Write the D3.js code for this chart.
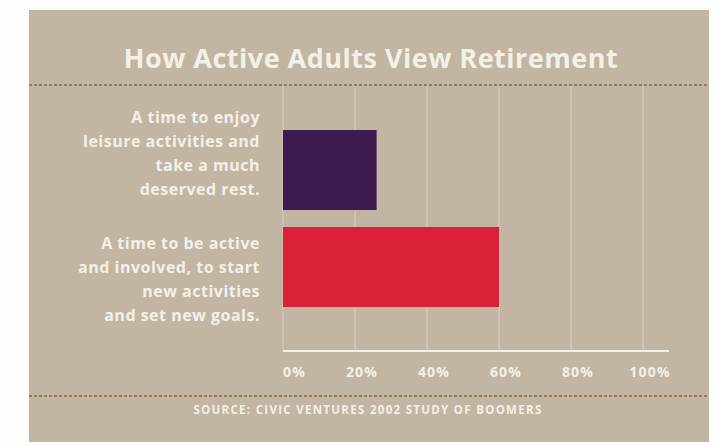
<!DOCTYPE html>
<html>
<head>
<meta charset="utf-8">
<script src="https://cdn.jsdelivr.net/npm/d3@7"></script>
<style>
  html, body { margin: 0; padding: 0; background: #fdfdfc; }
  svg { display: block; }
  text { font-family: "Open Sans", "Noto Sans", sans-serif; font-weight: 700; }
</style>
</head>
<body>
<svg id="chart" width="720" height="442"></svg>
<script>
// Survey answers (share of respondents, %)
const categories = [
  ["A time to enjoy", "leisure activities and", "take a much", "deserved rest."],
  ["A time to be active", "and involved, to start", "new activities", "and set new goals."]
];
const values = [26, 60];
const barColors = ["#3e1b4f", "#db2135"];
const tickValues = [0, 20, 40, 60, 80, 100];
const tickLabels = ["0%", "20%", "40%", "60%", "80%", "100%"];
const title = "How Active Adults View Retirement";
const source = "SOURCE: CIVIC VENTURES 2002 STUDY OF BOOMERS";

const svg = d3.select("#chart");
const cream = "#f5f0e6";

// tan card
svg.append("rect")
  .attr("x", 29).attr("y", 10)
  .attr("width", 680).attr("height", 432)
  .attr("fill", "#c2b5a3");

// title
svg.append("text")
  .attr("x", 371).attr("y", 68)
  .attr("text-anchor", "middle")
  .attr("font-size", 27)
  .attr("letter-spacing", 0.5)
  .attr("fill", cream)
  .text(title);

// dotted rules
function rule(y) {
  svg.append("line")
    .attr("x1", 29).attr("x2", 709)
    .attr("y1", y).attr("y2", y)
    .attr("stroke", "#8c6446")
    .attr("stroke-width", 1.3)
    .attr("stroke-dasharray", "3,2");
}
rule(85);
rule(396);

// scales
const x = d3.scaleLinear().domain([0, 100]).range([283, 643]);
const y = d3.scaleBand()
  .domain(d3.range(values.length))
  .range([130, 307])
  .paddingInner(0.175)
  .paddingOuter(0);

// vertical gridlines
svg.append("g")
  .selectAll("line")
  .data(tickValues)
  .join("line")
  .attr("x1", d => x(d)).attr("x2", d => x(d))
  .attr("y1", 86).attr("y2", 351)
  .attr("stroke", "#ffffff")
  .attr("stroke-opacity", 0.35)
  .attr("stroke-width", 1);

// bars
svg.append("g")
  .selectAll("rect")
  .data(values)
  .join("rect")
  .attr("x", x(0))
  .attr("y", (d, i) => y(i))
  .attr("width", d => x(d) - x(0))
  .attr("height", y.bandwidth())
  .attr("fill", (d, i) => barColors[i]);

// category labels, right aligned beside the bars
const lineGap = 24;
const firstBaseline = [123, 249];
svg.append("g")
  .selectAll("text")
  .data(categories)
  .join("text")
  .attr("text-anchor", "end")
  .attr("font-size", 16)
  .attr("letter-spacing", 0.5)
  .attr("fill", cream)
  .each(function (lines, i) {
    d3.select(this).selectAll("tspan")
      .data(lines)
      .join("tspan")
      .attr("x", 260)
      .attr("y", (l, j) => firstBaseline[i] + j * lineGap)
      .text(l => l);
  });

// baseline axis
svg.append("line")
  .attr("x1", x(0)).attr("x2", x(100) + 26)
  .attr("y1", 351).attr("y2", 351)
  .attr("stroke", cream)
  .attr("stroke-width", 2);

// tick labels
svg.append("g")
  .selectAll("text")
  .data(tickValues)
  .join("text")
  .attr("x", (d, i) => i === 0 ? x(d) : x(d) + 7)
  .attr("y", 377)
  .attr("text-anchor", (d, i) => i === 0 ? "start" : "middle")
  .attr("font-size", 14)
  .attr("letter-spacing", 1.2)
  .attr("fill", cream)
  .text((d, i) => tickLabels[i]);

// source note
svg.append("text")
  .attr("x", 368).attr("y", 414)
  .attr("text-anchor", "middle")
  .attr("font-size", 11.5)
  .attr("letter-spacing", 1.3)
  .attr("fill", cream)
  .text(source);
</script>
</body>
</html>
